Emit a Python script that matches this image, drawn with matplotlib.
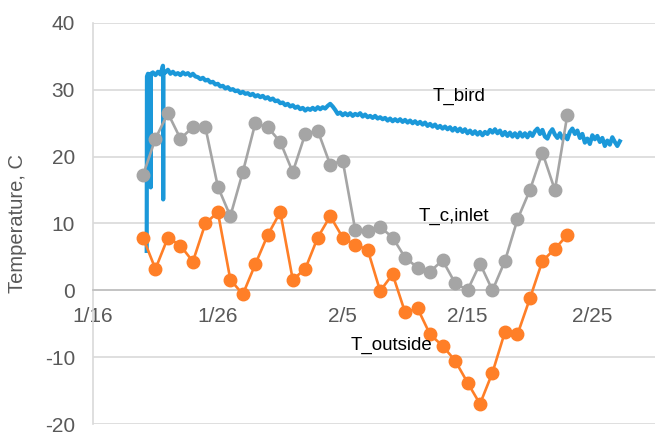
import matplotlib
matplotlib.use("Agg")
import matplotlib.pyplot as plt
import numpy as np
import pandas as pd

# ---- data ----
base_date = pd.Timestamp("2015-01-16")
daily_dates = pd.date_range("2015-01-20", "2015-02-23", freq="D")

t_c_inlet = [17.2, 22.7, 26.5, 22.7, 24.4, 24.4, 15.5, 11.1, 17.7, 25.0,
             24.4, 22.2, 17.7, 23.4, 23.9, 18.8, 19.4, 9.1, 8.9, 9.5,
             7.9, 4.9, 3.4, 2.8, 4.5, 1.1, 0.0, 4.0, 0.0, 4.4,
             10.6, 15.0, 20.6, 15.0, 26.3]

t_outside = [7.9, 3.2, 7.9, 6.7, 4.3, 10.0, 11.7, 1.6, -0.6, 3.9,
             8.3, 11.7, 1.6, 3.2, 7.9, 11.1, 7.9, 6.8, 6.1, -0.1,
             2.4, -3.3, -2.7, -6.6, -8.3, -10.5, -13.8, -17.0, -12.3, -6.2,
             -6.6, -1.2, 4.4, 6.2, 8.3]

# logged bird temperature: regular samples every 0.2 day starting 4.4 days after 1/16
bird_start_day = 4.4
bird_step_day = 0.2
t_bird = [
    32.4, 32.0, 32.6, 32.2, 32.7,
    32.3, 33.6, 32.6, 33.0, 32.4,
    32.7, 32.3, 32.5, 32.2, 32.6,
    32.3, 32.5, 32.1, 32.4, 32.0,
    31.9, 31.6, 31.8, 31.4, 31.5,
    31.1, 31.2, 30.8, 30.9, 30.5,
    30.6, 30.2, 30.4, 30.0, 30.1,
    29.8, 29.9, 29.5, 29.7, 29.4,
    29.5, 29.2, 29.4, 29.0, 29.2,
    28.9, 29.1, 28.7, 28.9, 28.5,
    28.7, 28.3, 28.4, 28.0, 28.1,
    27.7, 27.9, 27.5, 27.7, 27.3,
    27.5, 27.1, 27.3, 26.9, 27.2,
    27.0, 27.3, 27.0, 27.4, 27.1,
    27.4, 27.2, 27.6, 27.9, 27.5,
    27.0, 26.4, 26.6, 26.2, 26.5,
    26.2, 26.5, 26.1, 26.4, 26.2,
    26.5, 26.0, 26.3, 25.9, 26.1,
    25.8, 26.1, 25.7, 25.9, 25.6,
    25.8, 25.4, 25.7, 25.3, 25.6,
    25.3, 25.6, 25.2, 25.5, 25.1,
    25.4, 25.0, 25.3, 24.9, 25.2,
    24.8, 25.1, 24.6, 24.9, 24.5,
    24.8, 24.3, 24.6, 24.2, 24.5,
    24.1, 24.4, 23.9, 24.3, 23.8,
    24.2, 23.7, 24.1, 23.5, 23.9,
    23.4, 23.8, 23.3, 23.7, 23.2,
    23.7, 23.4, 24.0, 23.6, 24.1,
    23.5, 23.9, 23.2, 23.7, 23.1,
    23.6, 23.0, 23.5, 22.9, 23.6,
    23.0, 23.5, 22.9, 23.6, 23.1,
    23.8, 24.2, 23.4, 24.0, 23.0,
    22.7, 23.6, 24.1, 23.3, 22.8,
    23.5, 22.7, 23.2, 22.6, 23.7,
    24.2, 23.4, 23.9, 22.8, 23.4,
    22.1, 22.7, 21.9, 23.2, 22.6,
    23.1, 22.2, 22.8, 21.6, 22.4,
    21.8, 22.9, 22.2, 21.6, 22.3,
]
# sensor start-up and two short drop-outs
bird_event_days = [4.30, 4.32, 4.61, 4.62, 4.63, 5.61, 5.62, 5.63]
bird_event_vals = [5.9, 32.0, 32.3, 15.4, 32.4, 33.2, 13.6, 32.8]

tick_labels = ["1/16", "1/26", "2/5", "2/15", "2/25"]
series_labels = ["T_bird", "T_c,inlet", "T_outside"]

# ---- assemble the bird series ----
reg_days = bird_start_day + bird_step_day * np.arange(len(t_bird))
bird = pd.DataFrame({"day": np.concatenate([reg_days, bird_event_days]),
                     "temp": np.concatenate([t_bird, bird_event_vals])})
bird = bird.sort_values("day", kind="stable")
bird_time = base_date + pd.to_timedelta(bird["day"], unit="D")

# ---- figure ----
plt.rcParams["font.family"] = ["Liberation Sans", "DejaVu Sans"]
plt.rcParams["axes.unicode_minus"] = False
fig = plt.figure(figsize=(6.57, 4.32), dpi=100)
ax = fig.add_axes([0.1416, 0.0185, 0.855, 0.9283])

blue = "#1B98D9"
gray = "#A5A5A5"
orange = "#FF7F27"
grid_c = "#D9D9D9"
text_c = "#595959"

ax.plot(bird_time, bird["temp"], color=blue, lw=3.0, zorder=3,
        solid_joinstyle="round")
ax.plot(daily_dates, t_c_inlet, color=gray, lw=1.9, marker="o", ms=9,
        zorder=4)
ax.plot(daily_dates, t_outside, color=orange, lw=1.9, marker="o", ms=9,
        zorder=4)

ax.set_ylim(-20, 40)
ax.set_yticks(np.arange(-20, 41, 10))
ax.set_xlim(base_date, base_date + pd.Timedelta(days=45))
ticks = [base_date + pd.Timedelta(days=10 * i) for i in range(len(tick_labels))]
ax.set_xticks(ticks)
ax.set_xticklabels(tick_labels)

ax.yaxis.grid(True, color=grid_c, lw=1.2)
ax.set_axisbelow(True)
for s in ["top", "right"]:
    ax.spines[s].set_visible(False)
ax.spines["left"].set_color(grid_c)
ax.spines["left"].set_linewidth(1.2)
ax.spines["bottom"].set_position(("data", 0))
ax.spines["bottom"].set_color("#BFBFBF")
ax.spines["bottom"].set_linewidth(1.2)

ax.tick_params(axis="both", length=0, labelsize=15, labelcolor=text_c)
ax.tick_params(axis="y", pad=13)
ax.tick_params(axis="x", pad=12)

ax.set_ylabel("Temperature, C", fontsize=14.5, color=text_c)
ax.yaxis.set_label_coords(-0.117, 0.5)

label_pos = [(29.3, 29.0), (28.9, 11.1), (23.9, -8.3)]
for lab, (d, v) in zip(series_labels, label_pos):
    ax.text(base_date + pd.Timedelta(days=d), v, lab, fontsize=13.5,
            color="black", ha="center", va="center", zorder=5)

fig.savefig("out.png", dpi=100)
